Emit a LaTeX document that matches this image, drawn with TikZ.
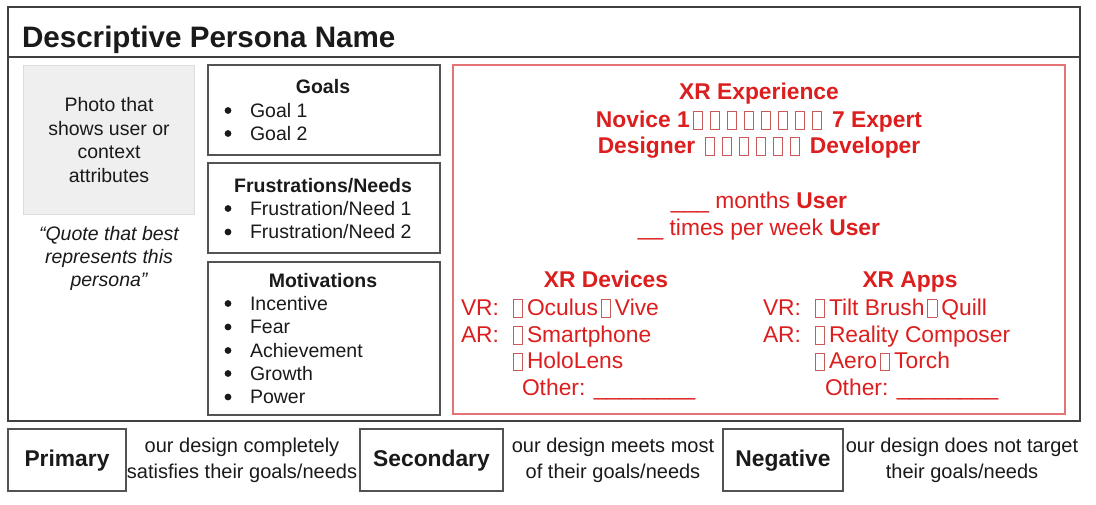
\documentclass[tikz,border=0pt]{standalone}
\usepackage{fontspec}
\setmainfont{Liberation Sans}
\definecolor{frameink}{HTML}{404040}
\definecolor{ink}{HTML}{1A1A1A}
\definecolor{xrred}{HTML}{DC1E1E}
\definecolor{xrline}{HTML}{E57373}
\definecolor{tofucol}{HTML}{C85A5A}
\definecolor{photofill}{HTML}{EFEFEF}
\definecolor{photoline}{HTML}{DCDCDC}

% empty checkbox glyph
\newcommand\tofu{\hspace{3pt}{\color{tofucol}\fboxsep=0pt\fboxrule=0.8pt\fbox{\rule[-1.5pt]{0pt}{16.5pt}\hspace{8.4pt}}}\hspace{4pt}}
\newcommand\bodyfont{\fontsize{19.5pt}{23pt}\selectfont}
\newcommand\redfont{\fontsize{22.8pt}{27pt}\selectfont}
\newcommand\titlefont{\fontsize{29.6pt}{34pt}\selectfont\bfseries}
\newcommand\notefont{\fontsize{20pt}{24pt}\selectfont}

\tikzset{
  frameline/.style={draw=frameink, line width=1.8pt},
  panel/.style={draw=frameink!90, line width=1.8pt},
  photobox/.style={draw=photoline, fill=photofill, line width=1pt},
  xrbox/.style={draw=xrline, line width=1.4pt},
  txt/.style={inner sep=0pt, outer sep=0pt, font=\bodyfont, text=ink},
  ctxt/.style={txt, anchor=base},
  ltxt/.style={txt, anchor=base west},
  head/.style={ctxt, font=\bodyfont\bfseries},
  note/.style={ctxt, font=\notefont},
  redc/.style={inner sep=0pt, outer sep=0pt, font=\redfont, text=xrred, anchor=base},
  redl/.style={redc, anchor=base west},
  redhead/.style={redc, font=\redfont\bfseries},
  tag/.style={inner sep=0pt, outer sep=0pt, font=\redfont\bfseries, text=ink, anchor=base},
  dot/.style={fill=ink},
}

\begin{document}
\begin{tikzpicture}[x=1pt, y=-1pt]
\useasboundingbox (0,0) rectangle (1096,504);
\fill[white] (0,0) rectangle (1096,504);

% outer card and title row
\draw[frameline] (8,7) rectangle (1080,421);
\draw[frameline] (8,57) -- (1080,57);
\node[ltxt, font=\titlefont] (title) at (22,47) {Descriptive Persona Name};

% photo placeholder and quote
\draw[photobox] (23,65) rectangle (194,214);
\node[ctxt] (ph1) at (109,111.7) {Photo that};
\node[ctxt] (ph2) at (109,135) {shows user or};
\node[ctxt] (ph3) at (109,158.5) {context};
\node[ctxt] (ph4) at (109,182) {attributes};
\node[ctxt, font=\bodyfont\itshape] (q1) at (109,240) {“Quote that best};
\node[ctxt, font=\bodyfont\itshape] (q2) at (109,263) {represents this};
\node[ctxt, font=\bodyfont\itshape] (q3) at (109,286) {persona”};

% goals
\draw[panel] (208,65) rectangle (440,155);
\node[head] (goals) at (323,93) {Goals};
\foreach \n/\y/\t in {g1/117/{Goal 1}, g2/140/{Goal 2}}{
  \fill[dot] (228,\y-6.5) circle (3.4);
  \node[ltxt] (\n) at (250,\y) {\t};
}

% frustrations and needs
\draw[panel] (208,163) rectangle (440,253);
\node[head] (frus) at (323,192) {Frustrations/Needs};
\foreach \n/\y/\t in {f1/215/{Frustration/Need 1}, f2/238.5/{Frustration/Need 2}}{
  \fill[dot] (228,\y-6.5) circle (3.4);
  \node[ltxt] (\n) at (250,\y) {\t};
}

% motivations
\draw[panel] (208,262) rectangle (440,415);
\node[head] (motiv) at (323,287) {Motivations};
\foreach \n/\y/\t in {m1/310/Incentive, m2/333.5/Fear, m3/357/Achievement, m4/380/Growth, m5/403.5/Power}{
  \fill[dot] (228,\y-6.5) circle (3.4);
  \node[ltxt] (\n) at (250,\y) {\t};
}

% XR profile
\draw[xrbox] (453,65) rectangle (1065,414);
\node[redhead] (xrexp) at (759,99) {XR Experience};
\node[redhead] (novice) at (759,127) {Novice 1\tofu\tofu\tofu\tofu\tofu\tofu\tofu\tofu\ 7 Expert};
\node[redhead] (role) at (759,153) {Designer \tofu\tofu\tofu\tofu\tofu\tofu\ Developer};
\node[redc] (months) at (759,208) {\_\_\_ months \textbf{User}};
\node[redc] (times) at (759,235) {\_\_ times per week \textbf{User}};

\node[redhead] (devices) at (606,287) {XR Devices};
\node[redl] (dvr) at (461,315) {VR:\hspace{11pt}\tofu Oculus\tofu Vive};
\node[redl] (dar) at (461,342) {AR:\hspace{11pt}\tofu Smartphone};
\node[redl] (dholo) at (510,368.5) {\tofu HoloLens};
\node[redl] (dother) at (522,395) {Other: \_\_\_\_\_\_\_\_};

\node[redhead] (apps) at (910,287) {XR Apps};
\node[redl] (avr) at (763,315) {VR:\hspace{11pt}\tofu Tilt Brush\tofu Quill};
\node[redl] (aar) at (763,342) {AR:\hspace{11pt}\tofu Reality Composer};
\node[redl] (aaero) at (812,368.5) {\tofu Aero\tofu Torch};
\node[redl] (aother) at (825,395) {Other: \_\_\_\_\_\_\_\_};

% persona type legend
\draw[panel] (8,429) rectangle (126,491);
\node[tag] (primary) at (67,466) {Primary};
\node[note] (p1) at (242,452) {our design completely};
\node[note] (p2) at (242,478) {satisfies their goals/needs};

\draw[panel] (360,429) rectangle (503,491);
\node[tag] (secondary) at (431.5,466) {Secondary};
\node[note] (s1) at (613,452) {our design meets most};
\node[note] (s2) at (613,478) {of their goals/needs};

\draw[panel] (723,429) rectangle (843,491);
\node[tag] (negative) at (783,466) {Negative};
\node[note] (n1) at (962,452) {our design does not target};
\node[note] (n2) at (962,478) {their goals/needs};
\end{tikzpicture}
\end{document}
